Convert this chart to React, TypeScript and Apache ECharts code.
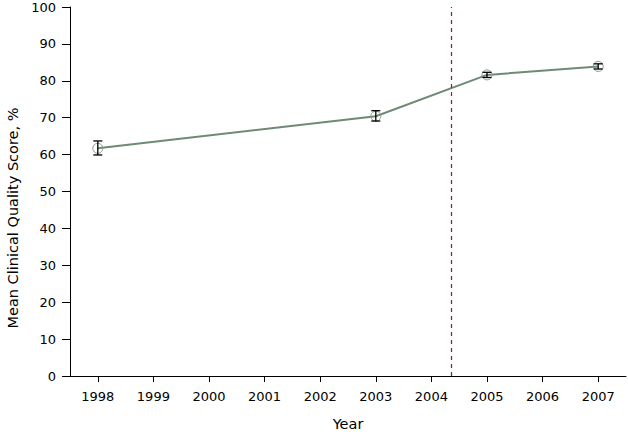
import React, { useEffect, useRef } from "react";
import * as echarts from "echarts";

const years = [1998, 2003, 2005, 2007];
const meanScore = [61.7, 70.4, 81.6, 83.9];
const lowerCI = [59.9, 69.1, 80.9, 83.2];
const upperCI = [63.7, 71.9, 82.3, 84.6];
const tickYears = [1998, 1999, 2000, 2001, 2002, 2003, 2004, 2005, 2006, 2007];
const interventionYear = 2004.35;
const yTitle = "Mean Clinical Quality Score, %";

export default function App() {
  const ref = useRef<HTMLDivElement>(null);
  useEffect(() => {
    const chart = echarts.init(ref.current!, null, { renderer: "svg" });
    const font = "DejaVu Sans, Verdana, sans-serif";
    chart.setOption({
      animation: false,
      grid: { left: 70, right: 2, top: 7, bottom: 56, containLabel: false, outerBoundsMode: "none" },
      graphic: [
        {
          type: "text",
          x: 13,
          y: 218,
          rotation: Math.PI / 2,
          style: {
            text: yTitle,
            fill: "#000",
            fontFamily: font,
            fontSize: 14.5,
            align: "center",
            verticalAlign: "middle",
          },
        },
      ],
      xAxis: {
        type: "value",
        min: 1997.5,
        max: 2007.5,
        name: "Year",
        nameLocation: "middle",
        nameGap: 40,
        nameTextStyle: { color: "#000", fontFamily: font, fontSize: 14.5 },
        axisLine: { show: true, lineStyle: { color: "#000", width: 1 } },
        axisTick: { show: true, customValues: tickYears, length: 6, lineStyle: { color: "#000" } },
        axisLabel: {
          customValues: tickYears,
          color: "#000",
          fontFamily: font,
          fontSize: 13,
          margin: 14,
          formatter: (v: number) => String(v),
        },
        splitLine: { show: false },
      },
      yAxis: {
        type: "value",
        min: 0,
        max: 100,
        interval: 10,
        axisLine: { show: true, lineStyle: { color: "#000", width: 1 } },
        axisTick: { show: true, length: 8, lineStyle: { color: "#000" } },
        axisLabel: { color: "#000", fontFamily: font, fontSize: 13, margin: 14 },
        splitLine: { show: false },
      },
      series: [
        {
          type: "line",
          data: years.map((y, i) => [y, meanScore[i]]),
          lineStyle: { color: "#6f8a74", width: 2 },
          itemStyle: { color: "rgba(255,255,255,0)", borderColor: "#8a9a8e", borderWidth: 1 },
          symbol: "circle",
          symbolSize: 10,
          z: 2,
          markLine: {
            silent: true,
            symbol: ["none", "none"],
            label: { show: false },
            lineStyle: { color: "#8c1c2e", type: [4, 4], width: 1.2, opacity: 1 },
            emphasis: { disabled: true },
            data: [{ xAxis: interventionYear }],
          },
        },
        {
          type: "custom",
          z: 3,
          data: years.map((y, i) => [y, lowerCI[i], upperCI[i]]),
          renderItem: (params: any, api: any) => {
            const x = api.value(0);
            const lo = api.coord([x, api.value(1)]);
            const hi = api.coord([x, api.value(2)]);
            const w = 4.5;
            const style = { stroke: "#000", lineWidth: 1.3 };
            return {
              type: "group",
              children: [
                { type: "line", shape: { x1: lo[0], y1: lo[1], x2: hi[0], y2: hi[1] }, style },
                { type: "line", shape: { x1: lo[0] - w, y1: lo[1], x2: lo[0] + w, y2: lo[1] }, style },
                { type: "line", shape: { x1: hi[0] - w, y1: hi[1], x2: hi[0] + w, y2: hi[1] }, style },
              ],
            };
          },
        },
      ],
    });
    return () => chart.dispose();
  }, []);
  return <div ref={ref} style={{ width: 628, height: 432, position: "absolute", left: 0, top: 0 }} />;
}
